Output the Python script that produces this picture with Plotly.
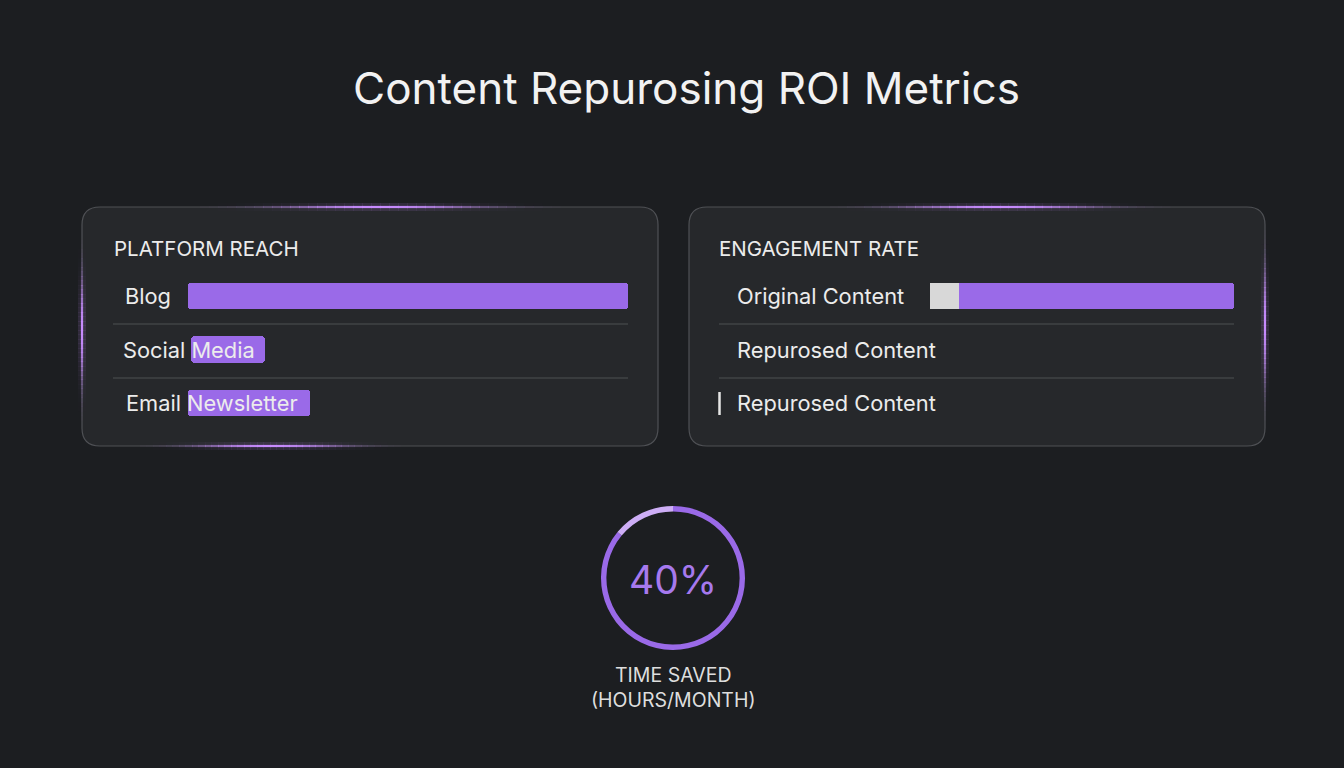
import math
import plotly.graph_objects as go

# ---------------- data ----------------
title_text = "Content Repurosing ROI Metrics"
reach_categories = ["Blog", "Social Media", "Email Newsletter"]
reach_values = [100, 16.8, 27.7]
reach_bases = [0, 0.7, 0]

engagement_categories = ["Original Content", "Repurosed Content", "Repurosed Content "]
engagement_original = [9.5, 0, 0]
engagement_repurposed = [90.5, 0, 0]

gauge_label = "40%"
gauge_segments = [86, 14]
gauge_caption = "TIME SAVED<br>(HOURS/MONTH)"

# ---------------- style ----------------
W, H = 1344, 768
BG = "#1c1e21"
CARD = "#26282b"
CARD_LINE = "#4f5155"
SEP = "#414346"
PURPLE = "#9a6ae8"
LIGHT_PURPLE = "#cdaef6"
GREY = "#d8d8d8"
TEXT = "#ececec"
FONT = "Inter"


def px(x):
    return x / W


def py(y):
    return 1 - y / H


fig = go.Figure()

fig.add_trace(go.Bar(
    y=reach_categories, x=reach_values, base=reach_bases, orientation="h",
    marker=dict(color=PURPLE, cornerradius=3, line=dict(width=0)),
    width=0.49, xaxis="x", yaxis="y", hoverinfo="skip", showlegend=False))

fig.add_trace(go.Bar(
    y=engagement_categories, x=engagement_original, orientation="h",
    marker=dict(color=GREY, cornerradius=3, line=dict(width=0)),
    width=0.49, xaxis="x2", yaxis="y2", hoverinfo="skip", showlegend=False))
fig.add_trace(go.Bar(
    y=engagement_categories, x=engagement_repurposed, orientation="h",
    marker=dict(color=PURPLE, cornerradius=3, line=dict(width=0)),
    width=0.49, xaxis="x2", yaxis="y2", hoverinfo="skip", showlegend=False))

cx, cy, r = 673, 578, 72
fig.add_trace(go.Pie(
    values=gauge_segments, sort=False, direction="clockwise", rotation=0,
    hole=0.925, textinfo="none", hoverinfo="skip", showlegend=False,
    marker=dict(colors=[PURPLE, LIGHT_PURPLE], line=dict(width=0)),
    domain=dict(x=[px(cx - r), px(cx + r)], y=[py(cy + r), py(cy - r)])))

row_top, row_bot = 269.25, 429.75
axis_common = dict(visible=False, showgrid=False, zeroline=False, fixedrange=True)
fig.update_layout(
    width=W, height=H,
    margin=dict(l=0, r=0, t=0, b=0),
    paper_bgcolor=BG, plot_bgcolor="rgba(0,0,0,0)",
    barmode="stack",
    font=dict(family=FONT, color=TEXT),
    xaxis=dict(domain=[px(188), px(628)], range=[0, 100], anchor="y", **axis_common),
    yaxis=dict(domain=[py(row_bot), py(row_top)], type="category",
               categoryorder="array", categoryarray=reach_categories,
               range=[2.5, -0.5], anchor="x", **axis_common),
    xaxis2=dict(domain=[px(930), px(1234)], range=[0, 100], anchor="y2", **axis_common),
    yaxis2=dict(domain=[py(row_bot), py(row_top)], type="category",
                categoryorder="array", categoryarray=engagement_categories,
                range=[2.5, -0.5], anchor="x2", **axis_common),
)


def rounded_rect(x0, y0, x1, y1, rr):
    X0, X1 = px(x0), px(x1)
    Y0, Y1 = py(y0), py(y1)
    rx, ry = rr / W, rr / H
    return (f"M {X0+rx},{Y0} L {X1-rx},{Y0} Q {X1},{Y0} {X1},{Y0-ry} "
            f"L {X1},{Y1+ry} Q {X1},{Y1} {X1-rx},{Y1} L {X0+rx},{Y1} "
            f"Q {X0},{Y1} {X0},{Y1+ry} L {X0},{Y0-ry} Q {X0},{Y0} {X0+rx},{Y0} Z")


shapes = []
N_SEG = 40


def glow(a0, a1, fixed, horizontal):
    c = (a0 + a1) / 2
    half = (a1 - a0) / 2
    step = (a1 - a0) / N_SEG
    for layer_w, peak in [(8, 0.13), (2.2, 1.0)]:
        for i in range(N_SEG):
            s0 = a0 + i * step
            s1 = s0 + step + 0.6
            mid = (s0 + s0 + step) / 2
            t = (mid - c) / half
            op = peak * math.exp(-4.0 * t * t)
            col = f"rgba(200,140,255,{op:.3f})"
            if horizontal:
                d = dict(x0=px(s0), x1=px(s1), y0=py(fixed), y1=py(fixed))
            else:
                d = dict(x0=px(fixed), x1=px(fixed), y0=py(s0), y1=py(s1))
            shapes.append(dict(type="line", xref="paper", yref="paper",
                               line=dict(color=col, width=layer_w), layer="above", **d))


for (x0, x1) in [(82, 658), (689, 1265)]:
    shapes.append(dict(type="path", xref="paper", yref="paper",
                       path=rounded_rect(x0, 207, x1, 446, 18),
                       fillcolor=CARD, line=dict(color=CARD_LINE, width=1.2), layer="below"))

glow(200, 560, 207, True)
glow(140, 400, 446, True)
glow(240, 420, 82, False)
glow(830, 1170, 207, True)
glow(230, 420, 1265, False)

for (x0, x1) in [(113, 628), (719, 1234)]:
    for y in [324, 378]:
        shapes.append(dict(type="line", xref="paper", yref="paper",
                           x0=px(x0), x1=px(x1), y0=py(y), y1=py(y),
                           line=dict(color=SEP, width=1.5), layer="below"))

shapes.append(dict(type="line", xref="paper", yref="paper",
                   x0=px(719.5), x1=px(719.5), y0=py(392), y1=py(415),
                   line=dict(color="#e6e6e6", width=2.5), layer="above"))

fig.update_layout(shapes=shapes)

ann = []


def text(x, y, s, size, color=TEXT, xanchor="left"):
    ann.append(dict(x=px(x), y=py(y), xref="paper", yref="paper", text=s,
                    showarrow=False, xanchor=xanchor, yanchor="middle",
                    font=dict(family=FONT, size=size, color=color)))


text(686, 88, title_text, 44, "#f2f2f2", "center")
text(112, 248, "PLATFORM REACH", 20.5)
text(717, 248, "ENGAGEMENT RATE", 20.5)

reach_x = [123, 121, 124]
for lab, x, y in zip(reach_categories, reach_x, [296, 350, 403]):
    text(x, y, lab, 21.8)
for lab, y in zip(engagement_categories, [296, 350, 403]):
    text(735, y, lab.strip(), 21.8)

text(cx, cy + 1, gauge_label, 39, "#a679ee", "center")
ann.append(dict(x=px(cx), y=py(687), xref="paper", yref="paper", text=gauge_caption,
                showarrow=False, xanchor="center", yanchor="middle", align="center",
                font=dict(family=FONT, size=19.5, color="#dedede")))

fig.update_layout(annotations=ann)

fig.write_html("out.html")
